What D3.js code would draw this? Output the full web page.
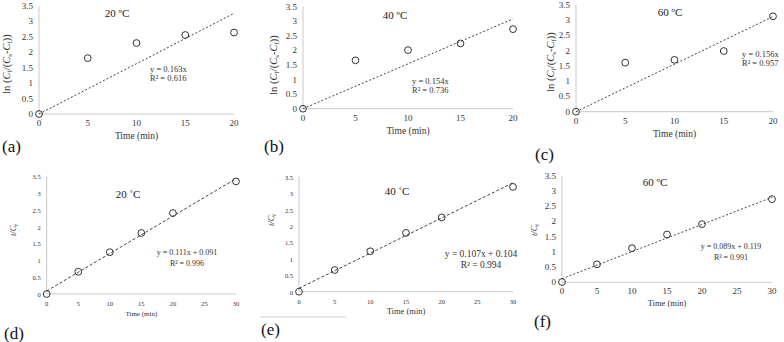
<!DOCTYPE html>
<html>
<head>
<meta charset="utf-8">
<script src="https://cdn.jsdelivr.net/npm/d3@7"></script>
<style>
  body { margin: 0; background: #fff; }
  text { font-family: "Liberation Serif", serif; fill: #333; }
</style>
</head>
<body>
<svg id="chart" width="784" height="342"></svg>
<script>
// ---- data ----
var timesTop = [0, 5, 10, 15, 20];
var timesBottom = [0, 5, 10, 15, 20, 30];

var lnA = [0, 1.81, 2.30, 2.56, 2.64];
var lnB = [0, 1.66, 2.01, 2.24, 2.73];
var lnC = [0, 1.61, 1.70, 1.99, 3.13];

var tcD = [0, 0.66, 1.24, 1.81, 2.40, 3.34];
var tcE = [0, 0.66, 1.23, 1.79, 2.26, 3.19];
var tcF = [0.01, 0.59, 1.12, 1.57, 1.91, 2.73];

var slopes = [0.163, 0.154, 0.156, 0.111, 0.107, 0.089];
var intercepts = [0, 0, 0, 0.091, 0.104, 0.119];
var eqLabels = ["y = 0.163x", "y = 0.154x", "y = 0.156x",
                "y = 0.111x + 0.091", "y = 0.107x + 0.104", "y = 0.089x + 0.119"];
var r2Labels = ["R² = 0.616", "R² = 0.736", "R² = 0.957",
                "R² = 0.996", "R² = 0.994", "R² = 0.991"];
var titles = ["20 ºC", "40 ºC", "60 ºC", "20 ˚C", "40 ˚C", "60 ºC"];
var letters = ["(a)", "(b)", "(c)", "(d)", "(e)", "(f)"];
var xTicksTop = [0, 5, 10, 15, 20];
var xTicksBottom = [0, 5, 10, 15, 20, 25, 30];
var yTicks = [0, 0.5, 1, 1.5, 2, 2.5, 3, 3.5];

// ---- layout of each panel (pixels) ----
var panels = [
  {x: timesTop, y: lnA, xmax: 20, xt: xTicksTop, l: 39, r: 234, b: 114, t: 6, fs: 9,
   title: [117, 17], eq: [150, 72, "start"], ylab: [10, 64, "ln"], letter: [2, 152]},
  {x: timesTop, y: lnB, xmax: 20, xt: xTicksTop, l: 303, r: 513, b: 108.7, t: 6.7, fs: 9,
   title: [395, 19], eq: [412, 84, "start"], ylab: [277, 65, "ln"], letter: [264, 152]},
  {x: timesTop, y: lnC, xmax: 20, xt: xTicksTop, l: 576, r: 773, b: 111.7, t: 5, fs: 9,
   title: [670, 16], eq: [742, 57, "start"], ylab: [554, 62, "ln"], letter: [535, 160]},
  {x: timesBottom, y: tcD, xmax: 30, xt: xTicksBottom, l: 46.7, r: 236, b: 294, t: 176, fs: 6.5,
   title: [128, 198], eq: [187, 255, "middle"], eqfs: 8, ylab: [16, 230, "t"], letter: [4, 339]},
  {x: timesBottom, y: tcE, xmax: 30, xt: xTicksBottom, l: 299, r: 513, b: 291.7, t: 176.7, fs: 6.5,
   title: [397, 195], eq: [481, 257, "middle"], eqfs: 9.5, ylab: [274, 220, "t"], letter: [261, 335]},
  {x: timesBottom, y: tcF, xmax: 30, xt: xTicksBottom, l: 562, r: 772, b: 282.3, t: 175.7, fs: 9,
   title: [655, 186], eq: [731, 249, "middle"], eqfs: 8, ylab: [537, 230, "t"], letter: [534, 327]}
];

var svg = d3.select("#chart");

panels.forEach(function(p, i) {
  var x = d3.scaleLinear().domain([0, p.xmax]).range([p.l, p.r]);
  var y = d3.scaleLinear().domain([0, 3.5]).range([p.b, p.t]);
  var g = svg.append("g");

  // axis lines
  g.append("line").attr("x1", p.l).attr("x2", p.r).attr("y1", p.b).attr("y2", p.b)
    .attr("stroke", "#c8c8c8").attr("stroke-width", 1);
  g.append("line").attr("x1", p.l).attr("x2", p.l).attr("y1", p.b).attr("y2", p.t)
    .attr("stroke", "#c8c8c8").attr("stroke-width", 1);

  // tick labels
  g.selectAll(".xt").data(p.xt).enter().append("text")
    .attr("x", function(d) { return x(d); })
    .attr("y", p.b + 12)
    .attr("text-anchor", "middle")
    .style("font-size", p.fs + "px")
    .text(function(d) { return d; });
  g.selectAll(".yt").data(yTicks).enter().append("text")
    .attr("x", p.l - 6)
    .attr("y", function(d) { return y(d) + 3; })
    .attr("text-anchor", "end")
    .style("font-size", p.fs + "px")
    .text(function(d) { return d; });

  // x title
  var tfs = i < 3 ? 9.5 : (i === 3 ? 7 : 8.5);
  g.append("text")
    .attr("x", (p.l + p.r) / 2)
    .attr("y", p.b + (i < 3 ? 25 : (i === 5 ? 24 : 22)))
    .attr("text-anchor", "middle")
    .style("font-size", tfs + "px")
    .text("Time (min)");

  // y title
  var yl = g.append("text")
    .attr("transform", "translate(" + p.ylab[0] + "," + p.ylab[1] + ") rotate(-90)")
    .attr("text-anchor", "middle")
    .style("font-size", (i < 3 ? 10.5 : 8.5) + "px");
  var sub = i < 3 ? "7px" : "6px";
  if (p.ylab[2] === "ln") {
    yl.append("tspan").text("ln (");
    yl.append("tspan").style("font-style", "italic").text("C");
    yl.append("tspan").attr("dy", 2).style("font-size", sub).text("f");
    yl.append("tspan").attr("dy", -2).text("/(");
    yl.append("tspan").style("font-style", "italic").text("C");
    yl.append("tspan").attr("dy", 2).style("font-size", sub).text("s");
    yl.append("tspan").attr("dy", -2).text("-");
    yl.append("tspan").style("font-style", "italic").text("C");
    yl.append("tspan").attr("dy", 2).style("font-size", sub).text("f");
    yl.append("tspan").attr("dy", -2).text("))");
  } else {
    yl.append("tspan").style("font-style", "italic").text("t/C");
    yl.append("tspan").attr("dy", 2).style("font-size", sub).style("font-style", "italic").text("t");
  }

  // trendline
  var fit = [0, p.xmax].map(function(t) { return [t, intercepts[i] + slopes[i] * t]; });
  g.append("line")
    .attr("x1", x(fit[0][0])).attr("y1", y(fit[0][1]))
    .attr("x2", x(fit[1][0])).attr("y2", y(fit[1][1]))
    .attr("stroke", "#444").attr("stroke-width", 1)
    .attr("stroke-dasharray", i < 3 || i === 5 ? "2,2" : "3,2");

  // points
  g.selectAll("circle").data(p.y).enter().append("circle")
    .attr("cx", function(d, j) { return x(p.x[j]); })
    .attr("cy", function(d) { return y(d); })
    .attr("r", 3.4)
    .attr("fill", "none")
    .attr("stroke", "#333")
    .attr("stroke-width", 1);

  // title
  g.append("text").attr("x", p.title[0]).attr("y", p.title[1])
    .attr("text-anchor", "middle").style("font-size", "11px").style("fill", "#222").text(titles[i]);

  // equation
  var efs = p.eqfs || 8.5;
  g.append("text").attr("x", p.eq[0]).attr("y", p.eq[1])
    .attr("text-anchor", p.eq[2]).style("font-size", efs + "px").text(eqLabels[i]);
  g.append("text").attr("x", p.eq[0]).attr("y", p.eq[1] + (i < 3 ? 9 : 11))
    .attr("text-anchor", p.eq[2]).style("font-size", efs + "px").text(r2Labels[i]);

  // panel letter
  g.append("text").attr("x", p.letter[0]).attr("y", p.letter[1])
    .style("font-size", "17px").style("fill", "#111").text(letters[i]);
});

// stray rule above (e) in the original figure
svg.append("line").attr("x1", 260).attr("x2", 346).attr("y1", 317).attr("y2", 317)
  .attr("stroke", "#cfcfcf").attr("stroke-width", 1);
</script>
</body>
</html>
